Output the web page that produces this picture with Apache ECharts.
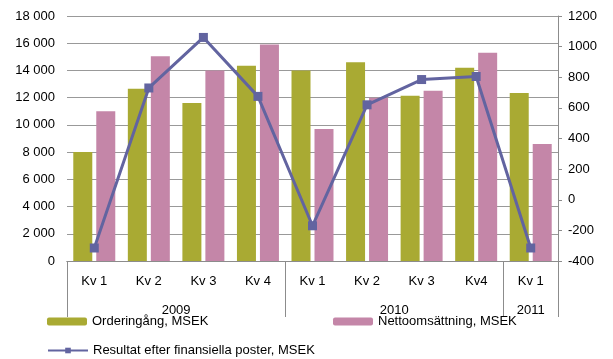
<!DOCTYPE html>
<html>
<head>
<meta charset="utf-8">
<script src="https://cdn.jsdelivr.net/npm/echarts@6/dist/echarts.min.js"></script>
<style>html,body{margin:0;padding:0;background:#fff}#c{width:613px;height:359px}</style>
</head>
<body>
<div id="c"></div>
<script>
var categories = ['Kv 1','Kv 2','Kv 3','Kv 4','Kv 1','Kv 2','Kv 3','Kv4','Kv 1'];
var yearSlots = ['','','','','2009','','','','','','','','2010','','','','','2011',''];
var yearTickIdx = [0, 8, 16, 18];
var yearLabelIdx = [4, 12, 17];
var orderingang = [8000, 12650, 11600, 14350, 14000, 14600, 12150, 14200, 12350];
var nettoomsattning = [11000, 15050, 14000, 15900, 9700, 12000, 12500, 15300, 8600];
var resultat = [-315, 730, 1060, 675, -170, 620, 785, 805, -315];
var leftTicks = {min: 0, max: 18000, interval: 2000};
var rightTicks = {min: -400, max: 1200, interval: 200};

var FONT = 'Liberation Sans';
function fmtThousands(v){
  if (v >= 1000) { var k = Math.floor(v/1000); var r = String(v%1000); while (r.length<3) r='0'+r; return k+' '+r; }
  return String(v);
}
var chart = echarts.init(document.getElementById('c'));
var txt = {fontFamily: FONT, fontSize: 13, color: '#000'};
chart.setOption({
  animation: false,
  textStyle: {fontFamily: FONT},
  grid: {left: 67, right: 55, top: 16, bottom: 98},
  legend: [
    {data: ['Orderingång, MSEK'], left: 47, top: 315, itemWidth: 40, itemHeight: 8, textStyle: txt, itemGap: 4, padding: 0},
    {data: ['Nettoomsättning, MSEK'], left: 333, top: 315, itemWidth: 40, itemHeight: 8, textStyle: txt, padding: 0},
    {data: ['Resultat efter finansiella poster, MSEK'], left: 47, top: 344, itemWidth: 40, itemHeight: 7, textStyle: txt, padding: 0}
  ],
  xAxis: [
    {type: 'category', data: categories, position: 'bottom',
     axisLine: {show: true, onZero: false, lineStyle: {color: '#8c8c8c', width: 1}},
     axisTick: {show: false},
     axisLabel: Object.assign({margin: 14}, txt)},
    {type: 'category', data: yearSlots, position: 'bottom', boundaryGap: false,
     axisLine: {show: true, onZero: false, lineStyle: {color: '#8c8c8c', width: 1}},
     axisTick: {show: true, inside: false, length: 56, lineStyle: {color: '#8c8c8c', width: 1},
       interval: function(i){ return yearTickIdx.indexOf(i) >= 0; }},
     axisLabel: Object.assign({margin: 43, interval: function(i){ return yearLabelIdx.indexOf(i) >= 0; }}, txt)}
  ],
  yAxis: [
    {type: 'value', min: leftTicks.min, max: leftTicks.max, interval: leftTicks.interval,
     axisLine: {show: false}, axisTick: {show: false},
     splitLine: {show: true, lineStyle: {color: '#999', width: 1}},
     axisLabel: Object.assign({margin: 12, formatter: fmtThousands}, txt)},
    {type: 'value', min: rightTicks.min, max: rightTicks.max, interval: rightTicks.interval,
     position: 'right',
     axisLine: {show: true, onZero: false, lineStyle: {color: '#8c8c8c', width: 1}},
     axisTick: {show: true, length: 4, lineStyle: {color: '#8c8c8c'}},
     splitLine: {show: false},
     axisLabel: Object.assign({margin: 10, formatter: function(v){ return String(v); }}, txt)}
  ],
  series: [
    {name: 'Orderingång, MSEK', type: 'bar', data: orderingang, barWidth: 19, barGap: '21%',
     itemStyle: {color: '#A9AA33'}},
    {name: 'Nettoomsättning, MSEK', type: 'bar', data: nettoomsattning, barWidth: 19,
     itemStyle: {color: '#C486A8'}},
    {name: 'Resultat efter finansiella poster, MSEK', type: 'line', yAxisIndex: 1, data: resultat,
     symbol: 'rect', symbolSize: 9, z: 5,
     lineStyle: {color: '#6264A0', width: 3}, itemStyle: {color: '#6264A0'}}
  ]
});
</script>
</body>
</html>
